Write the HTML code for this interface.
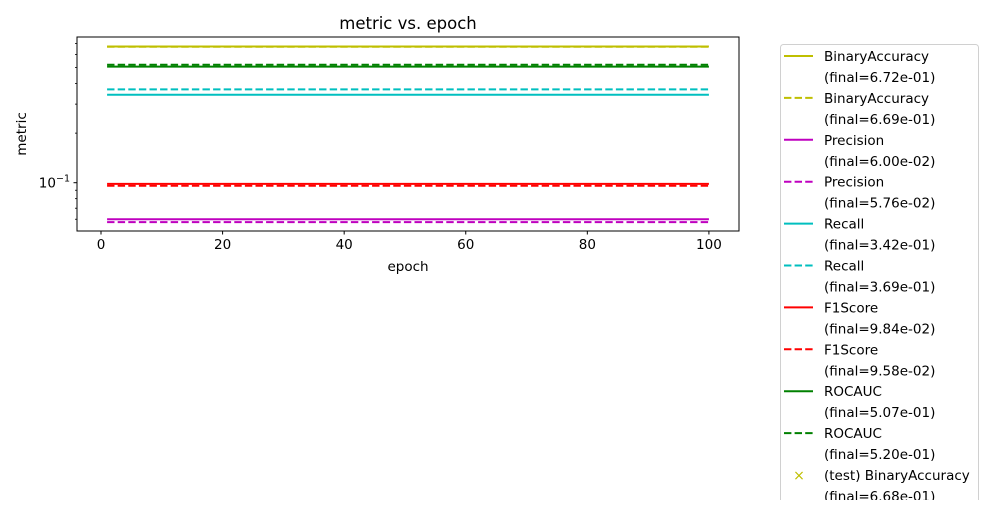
<!DOCTYPE html>
<html><head><meta charset="utf-8"><style>
body{margin:0;background:#fff;width:1000px;height:500px;overflow:hidden}
svg{font-family:"DejaVu Sans","Liberation Sans",sans-serif}
</style></head><body>
<svg id="chart" width="1000" height="500">
<rect x="0" y="0" width="1000" height="500" fill="#fff"/>
<text x="408" y="29" font-size="16.5" text-anchor="middle">metric vs. epoch</text>
<g id="plot"></g>
<rect x="77" y="37" width="662" height="194" fill="none" stroke="#000" stroke-width="1"/>
<text x="408" y="271" font-size="13.5" text-anchor="middle">epoch</text>
<text transform="translate(26,134) rotate(-90)" font-size="13.5" text-anchor="middle">metric</text>
<g id="legend"></g>
</svg>
<script>
const seriesNames=["BinaryAccuracy","BinaryAccuracy","Precision","Precision","Recall","Recall","F1Score","F1Score","ROCAUC","ROCAUC"];
const seriesColors=["#bfbf00","#bfbf00","#bf00bf","#bf00bf","#00bfbf","#00bfbf","#ff0000","#ff0000","#008000","#008000"];
const seriesDashed=[false,true,false,true,false,true,false,true,false,true];
const epochs=[1,100];
const seriesValues=[[0.672,0.672],[0.669,0.669],[0.060,0.060],[0.0576,0.0576],[0.342,0.342],[0.369,0.369],[0.0984,0.0984],[0.0958,0.0958],[0.507,0.507],[0.520,0.520]];
const finals=["6.72e-01","6.69e-01","6.00e-02","5.76e-02","3.42e-01","3.69e-01","9.84e-02","9.58e-02","5.07e-01","5.20e-01"];
const xTicks=[0,20,40,60,80,100];
const NS="http://www.w3.org/2000/svg";
const X0=77,X1=739,Y0=37,Y1=231,xmin=-3.95,xmax=104.95;
const ymaxL=Math.log10(0.767),yminL=Math.log10(0.0509);
const xs=v=>X0+(v-xmin)/(xmax-xmin)*(X1-X0);
const ys=v=>Y0+(ymaxL-Math.log10(v))/(ymaxL-yminL)*(Y1-Y0);
function mk(t,a,p){const e=document.createElementNS(NS,t);for(const k in a)e.setAttribute(k,a[k]);p.appendChild(e);return e;}
const plot=document.getElementById('plot'),svg=document.getElementById('chart');
seriesValues.forEach((vals,i)=>{
  const d=vals.map((v,j)=>(j?'L':'M')+xs(epochs[j])+','+ys(v)).join(' ');
  const p=mk('path',{d:d,fill:'none',stroke:seriesColors[i],'stroke-width':2,'stroke-dasharray':seriesDashed[i]?'7.4,3.2':'none'},plot);
  
  
});
xTicks.forEach(t=>{
  const g=mk('g',{},svg);
  
  
  mk('line',{x1:xs(t),x2:xs(t),y1:231,y2:234.5,stroke:'#000'},g);
  const tx=mk('text',{x:xs(t),y:249,'font-size':13.5,'text-anchor':'middle'},g);tx.textContent=t;
});
[0.06,0.07,0.08,0.09,0.2,0.3,0.4,0.5,0.6,0.7].forEach(v=>{
  const l=mk('line',{x1:75,x2:77,y1:ys(v),y2:ys(v),stroke:'#000','stroke-width':0.8},svg);
  
  
});
const g=mk('g',{},svg);


mk('line',{x1:73.5,x2:77,y1:ys(0.1),y2:ys(0.1),stroke:'#000'},g);
const yt=mk('text',{x:70,y:ys(0.1)+5,'font-size':13.5,'text-anchor':'end'},g);
yt.innerHTML='10<tspan dy="-6" font-size="9.5">−1</tspan>';
const leg=document.getElementById('legend');


mk('rect',{x:780.5,y:44.5,width:198,height:470,rx:3,fill:'#fff',stroke:'#d0d0d0'},leg);
const rowH=20.95;
seriesNames.forEach((n,i)=>{
  const y=56+i*2*rowH;
  const e=mk('g',{},leg);
  
  
  mk('line',{x1:784,x2:813,y1:y,y2:y,stroke:seriesColors[i],'stroke-width':2,'stroke-dasharray':seriesDashed[i]?'7.4,3.2':'none'},e);
  const t1=mk('text',{x:824,y:y+5,'font-size':13.5},e);t1.textContent=n;
  const t2=mk('text',{x:824,y:y+rowH+5,'font-size':13.5},e);t2.textContent='(final='+finals[i]+')';
});
const yy=56+10*2*rowH;
const te=mk('g',{},leg);


const m=mk('text',{x:799,y:yy+5,'font-size':14,'text-anchor':'middle',fill:'#bfbf00'},te);m.textContent='×';
const t3=mk('text',{x:824,y:yy+5,'font-size':13.5},te);t3.textContent='(test) BinaryAccuracy';
const t4=mk('text',{x:824,y:yy+rowH+5,'font-size':13.5},te);t4.textContent='(final=6.68e-01)';
</script>
</body></html>
